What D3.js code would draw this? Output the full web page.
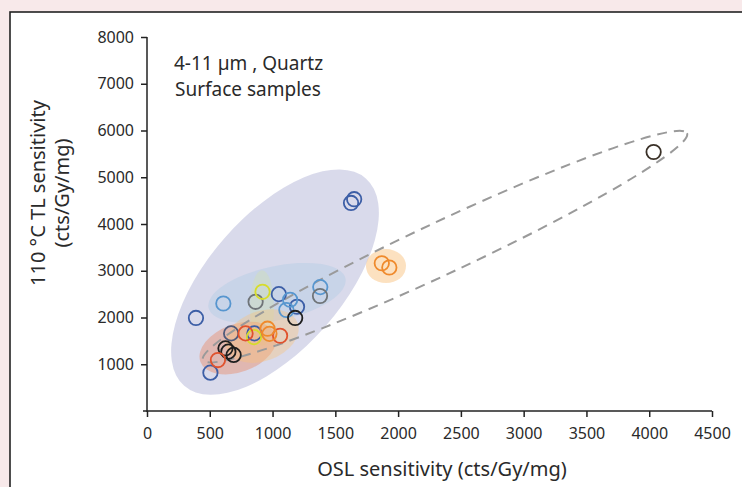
<!DOCTYPE html>
<html>
<head>
<meta charset="utf-8">
<script src="https://cdn.jsdelivr.net/npm/d3@7"></script>
<style>
  body { margin:0; background:#f8e9ea; }
  svg text { font-family:"Noto Sans", "Open Sans", sans-serif; fill:#2a2a2a; }
</style>
</head>
<body>
<div id="chart"></div>
<script>
// axis ticks
var xTicks = [0,500,1000,1500,2000,2500,3000,3500,4000,4500];
var yTicks = [1000,2000,3000,4000,5000,6000,7000,8000];

// samples: OSL sensitivity, 110C TL sensitivity, group
var oslValues = [390, 505, 1625, 1650, 1050, 1195, 855, 670,
                 608, 1140, 1110, 1380,
                 865, 1378,
                 920, 852,
                 625, 648, 690, 1180, 4035,
                 565, 785, 1060,
                 1870, 1930, 960, 975];
var tlValues  = [1990, 820, 4450, 4530, 2500, 2230, 1660, 1660,
                 2300, 2380, 2160, 2650,
                 2336, 2460,
                 2550, 1580,
                 1340, 1270, 1200, 1990, 5540,
                 1090, 1660, 1610,
                 3160, 3070, 1760, 1650];
var groups    = ["dblue","dblue","dblue","dblue","dblue","dblue","dblue","slate",
                 "lblue","lblue","lblue","lblue",
                 "grey","grey",
                 "yellow","yellow",
                 "black","black","black","black","brown",
                 "red","red","red",
                 "orange","orange","orange","orange"];

var colorOf = {dblue:"#3c5ea6", slate:"#4f5a7a", lblue:"#5796cf", grey:"#6f7478",
               yellow:"#d7dc2a", black:"#1e1e1e", brown:"#3a3128", red:"#e0522d", orange:"#ef8a2c"};

// shaded / dashed regions: two tips of the long axis in data units
var regions = [
  {t1:[296,539],   t2:[1743,4975], w:67, fill:"rgba(160,162,205,0.40)"},
  {t1:[490,2210],  t2:[1581,2834], w:27, fill:"rgba(180,205,228,0.45)"},
  {t1:[916,1389],  t2:[916,3013],  w:12, fill:"rgba(215,230,160,0.30)"},
  {t1:[425,1054],  t2:[1024,1639], w:24, fill:"rgba(236,125,85,0.38)"},
  {t1:[632,1325],  t2:[1200,1881], w:25, fill:"rgba(250,195,120,0.38)"},
  {t1:[1744,3099], t2:[2063,3099], w:17, fill:"rgba(250,200,140,0.55)"},
  {t1:[446,1090],  t2:[4301,5941], w:26, fill:"none", dashed:true}
];

var W = 742, H = 487;
var svg = d3.select("#chart").append("svg").attr("width",W).attr("height",H);

svg.append("rect").attr("x",10).attr("y",12).attr("width",W+10).attr("height",H+10)
   .attr("fill","#fff").attr("stroke","#222").attr("stroke-width",1.6);

var x = d3.scaleLinear().domain([0,4500]).range([147,712]);
var y = d3.scaleLinear().domain([0,8000]).range([411,37]);

// regions
regions.forEach(function(r){
  var x1=x(r.t1[0]), y1=y(r.t1[1]), x2=x(r.t2[0]), y2=y(r.t2[1]);
  var cx=(x1+x2)/2, cy=(y1+y2)/2;
  var a=Math.hypot(x2-x1,y2-y1)/2;
  var ang=Math.atan2(y2-y1,x2-x1)*180/Math.PI;
  var e = svg.append("ellipse").attr("cx",cx).attr("cy",cy).attr("rx",a).attr("ry",r.w)
     .attr("transform","rotate("+ang+","+cx+","+cy+")")
     .attr("fill",r.fill);
  if(r.dashed){
    e.attr("stroke","#9a9a9a").attr("stroke-width",2).attr("stroke-dasharray","10,7");
  }
});

// axes
var xAxis = svg.append("g").attr("transform","translate(0,"+y(0)+")")
  .call(d3.axisBottom(x).tickValues(xTicks).tickFormat(d3.format("d")).tickSize(6).tickSizeOuter(0).tickPadding(11));
var yAxis = svg.append("g").attr("transform","translate("+x(0)+",0)")
  .call(d3.axisLeft(y).tickValues(yTicks).tickFormat(d3.format("d")).tickSize(6).tickSizeOuter(0).tickPadding(7));
[xAxis,yAxis].forEach(function(g){
  g.select(".domain").attr("stroke","#222").attr("stroke-width",1.5);
  g.selectAll(".tick line").attr("stroke","#222").attr("stroke-width",1.5);
  g.selectAll(".tick text").attr("font-size",16).attr("fill","#2a2a2a")
   .style("font-family",'"Noto Sans", sans-serif');
});
xAxis.select(".domain").attr("d","M"+(x(0)-4)+",0H"+x(4500));
yAxis.select(".domain").attr("d","M0,"+(y(0)+1)+"V"+y(8000));

// points
svg.append("g").selectAll("circle").data(oslValues).enter().append("circle")
  .attr("cx",function(d){ return x(d); })
  .attr("cy",function(d,i){ return y(tlValues[i]); })
  .attr("r",7.2)
  .attr("fill","none")
  .attr("stroke",function(d,i){ return colorOf[groups[i]]; })
  .attr("stroke-width",1.8);

// annotation
svg.append("text").attr("x",174).attr("y",70).attr("font-size",19).text("4-11 µm , Quartz");
svg.append("text").attr("x",175).attr("y",96).attr("font-size",19).text("Surface samples");

// axis titles
svg.append("text").attr("x",442).attr("y",476).attr("text-anchor","middle")
   .attr("font-size",20).text("OSL sensitivity (cts/Gy/mg)");
svg.append("text").attr("transform","translate(45,193) rotate(-90)").attr("text-anchor","middle")
   .attr("font-size",20).text("110 °C TL  sensitivity");
svg.append("text").attr("transform","translate(69,193) rotate(-90)").attr("text-anchor","middle")
   .attr("font-size",20).text("(cts/Gy/mg)");
</script>
</body>
</html>
